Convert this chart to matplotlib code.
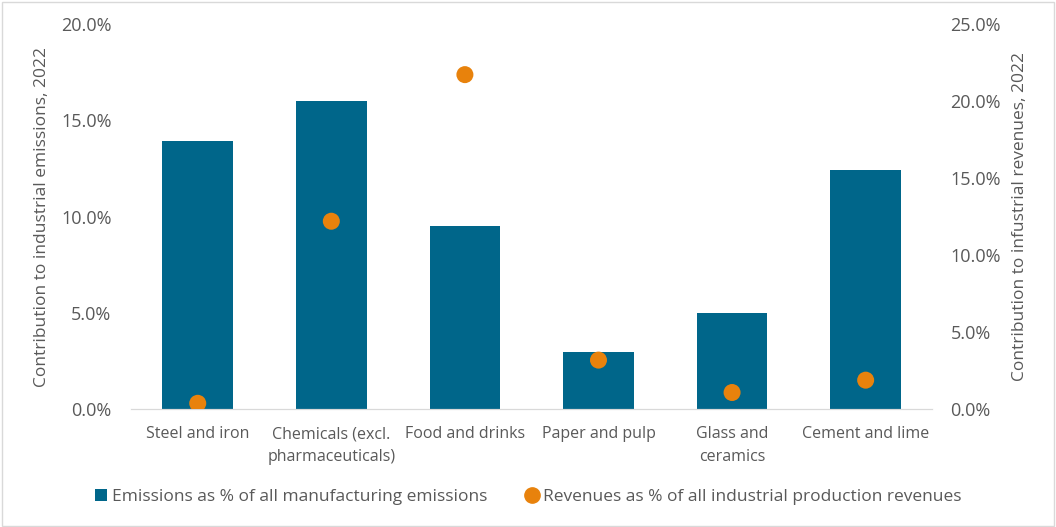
import numpy as np
import matplotlib.pyplot as plt
from matplotlib.ticker import PercentFormatter
from matplotlib.lines import Line2D
from matplotlib.patches import Patch

plt.rcParams['font.family'] = ['Open Sans', 'DejaVu Sans']

# data
categories = ["Steel and iron", "Chemicals (excl.\npharmaceuticals)", "Food and drinks",
              "Paper and pulp", "Glass and\nceramics", "Cement and lime"]
emissions_pct = [13.9, 16.0, 9.5, 3.0, 5.0, 12.4]
revenues_pct = [0.4, 12.2, 21.7, 3.2, 1.1, 1.9]

bar_color = "#00668A"
dot_color = "#E8820C"
text_grey = "#595959"

fig = plt.figure(figsize=(10.56, 5.27), dpi=100)
ax = fig.add_axes([0.124, 0.223, 0.759, 0.732])
ax2 = ax.twinx()

x = np.arange(len(categories))
ax.bar(x, emissions_pct, width=0.53, color=bar_color, zorder=2)
ax2.scatter(x, revenues_pct, s=150, color=dot_color, zorder=3, edgecolors='none')

ax.set_xlim(-0.5, len(categories) - 0.5)
ax.set_ylim(0, 20)
ax2.set_ylim(0, 25)
ax.set_yticks(np.arange(0, 20.1, 5))
ax2.set_yticks(np.arange(0, 25.1, 5))
ax.yaxis.set_major_formatter(PercentFormatter(decimals=1))
ax2.yaxis.set_major_formatter(PercentFormatter(decimals=1))

for a in (ax, ax2):
    for s in ("top", "left", "right"):
        a.spines[s].set_visible(False)
    a.spines["bottom"].set_color("#d9d9d9")
    a.tick_params(axis='y', length=0, labelsize=13, labelcolor=text_grey)
ax.tick_params(axis='y', pad=14)
ax2.tick_params(axis='y', pad=13)

ax.set_xticks(x)
ax.set_xticklabels(categories, linespacing=1.6)
ax.tick_params(axis='x', length=0, pad=12, labelsize=11.5, labelcolor=text_grey)

ax.set_ylabel("Contribution to industrial emissions, 2022", fontsize=12.5, color=text_grey, labelpad=8)
ax2.set_ylabel("Contribution to infustrial revenues, 2022", fontsize=12.5, color=text_grey, labelpad=8)

handles = [Patch(facecolor=bar_color, label="Emissions as % of all manufacturing emissions"),
           Line2D([], [], marker='o', linestyle='none', color=dot_color, markersize=11,
                  label="Revenues as % of all industrial production revenues")]
leg = fig.legend(handles=handles, loc='center', bbox_to_anchor=(0.5, 0.057), ncol=2,
                 frameon=False, fontsize=12.5, handlelength=0.7, handletextpad=0.3,
                 columnspacing=2.2)
for t in leg.get_texts():
    t.set_color(text_grey)

fig.patches.append(plt.Rectangle((0.002, 0.002), 0.996, 0.994, transform=fig.transFigure,
                                 fill=False, edgecolor="#d9d9d9", linewidth=1))

fig.savefig("out.png", dpi=100)
